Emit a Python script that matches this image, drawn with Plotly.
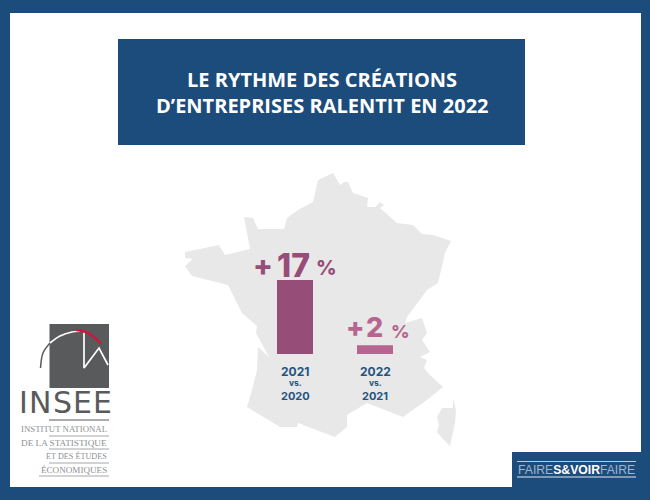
import plotly.graph_objects as go

# ---- chart data ----
categories = ["2021", "2022"]
growth_pct = [17, 2]
value_labels = ["17", "2"]
tick_top = ["2021", "2022"]
tick_bottom = ["2020", "2021"]
bar_colors = ["#964d78", "#b5658f"]

title_lines = ["LE RYTHME DES CRÉATIONS", "D’ENTREPRISES RALENTIT EN 2022"]

# France outline, page pixels
map_x = [333,318,313,298,287,284,258,253,244,250,225,219,185,185,193,185,192,228,242,257,256,269,258,257,252,247,280,297,298,335,347,347,367,403,427,443,430,424,427,420,430,422,427,422,405,407,427,438,445,451,433,422,413,397,380,384,380,375,367,368,353,348,344,340,333]
map_y = [173,180,202,210,218,229,229,218,217,249,255,245,252,258,259,266,276,285,313,326,333,357,347,370,390,407,427,427,423,437,427,415,403,417,400,387,375,368,360,357,352,340,333,318,323,317,290,283,253,241,235,234,225,223,208,205,202,207,207,198,193,182,182,185,173]
corsica_x = [453,453,442,437,439,437,442,450,455,456,453]
corsica_y = [398,408,408,417,425,432,438,446,423,410,398]

NAVY = "#1c4c7c"
TICK = "#25537f"
GREY = "#595a5c"
LGREY = "#8e9092"

fig = go.Figure()

fig.add_trace(go.Scatter(x=map_x, y=map_y, mode="lines", fill="toself", fillcolor="#e8e8e8",
                         line=dict(width=0, color="#e8e8e8"), hoverinfo="skip", showlegend=False))
fig.add_trace(go.Scatter(x=corsica_x, y=corsica_y, mode="lines", fill="toself", fillcolor="#e8e8e8",
                         line=dict(width=0, color="#e8e8e8"), hoverinfo="skip", showlegend=False))

# logo lines
logo_lines = [
    ([40.5,43,50], [368,353,343], GREY, 1.5),
    ([50,60,72,84], [343,336,332,331], "#ffffff", 1.7),
    ([84,84,99,108], [332,368,348,365], "#ffffff", 1.7),
    ([76,88,101], [330,333,343.5], "#d0143c", 2.5),
    ([49,109], [420,420], GREY, 1.2),
    ([49,109], [436,436], LGREY, 0.8),
    ([49,109], [449,449], LGREY, 0.8),
    ([49,109], [463,463], LGREY, 0.8),
    ([39,109], [476,476], LGREY, 0.8),
]

shapes = [
    dict(type="rect", x0=10, x1=641, y0=13, y1=487, fillcolor="#ffffff", line_width=0, layer="below", xref="x", yref="y"),
    dict(type="rect", x0=118, x1=525, y0=39, y1=145, fillcolor=NAVY, line_width=0, layer="below", xref="x", yref="y"),
    dict(type="rect", x0=49.5, x1=109, y0=324, y1=388, fillcolor=GREY, line_width=0, layer="below", xref="x", yref="y"),
    dict(type="rect", x0=512, x1=641, y0=452, y1=487, fillcolor=NAVY, line_width=0, layer="below", xref="x", yref="y"),
    dict(type="line", x0=517, x1=636, y0=461.5, y1=461.5, line=dict(color="#b9cbdc", width=1), xref="x", yref="y"),
    dict(type="line", x0=517, x1=636, y0=477, y1=477, line=dict(color="#dfe7ef", width=1), xref="x", yref="y"),
]
for lx, ly, c, w in logo_lines:
    fig.add_trace(go.Scatter(x=lx, y=ly, mode="lines", line=dict(color=c, width=w, shape="spline" if len(lx) > 2 and lx[1] != 84 else "linear"),
                             hoverinfo="skip", showlegend=False))

# bars
fig.add_trace(go.Bar(x=categories, y=growth_pct, width=0.45, marker=dict(color=bar_colors, line_width=0),
                     xaxis="x2", yaxis="y2", hoverinfo="skip", showlegend=False))

annotations = []
def page_text(x, y, text, size, color, family, anchor="center"):
    annotations.append(dict(x=x, y=y, xref="x", yref="y", text=text, showarrow=False, xanchor=anchor, yanchor="middle",
                            font=dict(size=size, color=color, family=family)))

page_text(322, 79, "<b>" + title_lines[0] + "</b>", 20, "#ffffff", "Open Sans")
page_text(322, 105, "<b>" + title_lines[1] + "</b>", 20, "#ffffff", "Open Sans")

# per bar: (text, x offset, y offset, size) of the plus sign, number, percent sign
label_parts = [
    [("+", -32, 15, 29), (value_labels[0], -2, 15, 32), ("%", 31, 12, 20)],
    [("+", -20, 18, 27), (value_labels[1], -1, 18, 27), ("%", 25, 14, 18)],
]
for i, (v, c, parts, top, bot) in enumerate(zip(growth_pct, bar_colors, label_parts, tick_top, tick_bottom)):
    for txt, xs, ys, fs in parts:
        annotations.append(dict(x=i, y=v, xref="x2", yref="y2", yanchor="middle", xanchor="center", showarrow=False,
                                xshift=xs, yshift=ys, text=txt,
                                font=dict(size=fs, color=c, family="Inter", weight=800)))
    for txt, shift, fs in [(top, -17, 12), ("vs.", -29, 8.5), (bot, -42, 11)]:
        annotations.append(dict(x=i, y=0, xref="x2", yref="y2", yanchor="middle", xanchor="center", showarrow=False,
                                yshift=shift, text=f"<b>{txt}</b>", font=dict(size=fs, color=TICK, family="Inter")))

for letter, lx in zip("INSEE", [23.5, 40, 62, 82.5, 102]):
    page_text(lx, 402, letter, 30, GREY, "DejaVu Sans")
page_text(109, 428.5, "INSTITUT NATIONAL", 8.8, LGREY, "Liberation Serif", "right")
page_text(109, 442.5, "DE LA STATISTIQUE", 9.2, LGREY, "Liberation Serif", "right")
page_text(109, 456, "ET DES ÉTUDES", 8.2, LGREY, "Liberation Serif", "right")
page_text(109, 470, "ÉCONOMIQUES", 9.1, LGREY, "Liberation Serif", "right")

page_text(576.5, 470, "<span style='color:#9fb6cc'>FAIRE</span><b>S&amp;VOIR</b><span style='color:#9fb6cc'>FAIRE</span>",
          12.2, "#ffffff", "Liberation Sans")

fig.update_layout(
    width=650, height=500, margin=dict(l=0, r=0, t=0, b=0), autosize=False,
    paper_bgcolor=NAVY, plot_bgcolor="rgba(0,0,0,0)", showlegend=False,
    shapes=shapes, annotations=annotations,
    xaxis=dict(range=[0, 650], domain=[0, 1], visible=False, fixedrange=True),
    yaxis=dict(range=[500, 0], domain=[0, 1], visible=False, fixedrange=True),
    xaxis2=dict(domain=[255/650, 415/650], range=[-0.5, 1.5], type="category", anchor="y2", visible=False, fixedrange=True),
    yaxis2=dict(domain=[(500-354)/500, (500-267)/500], range=[0, 20], anchor="x2", visible=False, fixedrange=True),
)
fig.write_html("out.html", config=dict(displayModeBar=False),
               post_script="document.body.style.margin='0';document.documentElement.style.background='#1c4c7c';")
